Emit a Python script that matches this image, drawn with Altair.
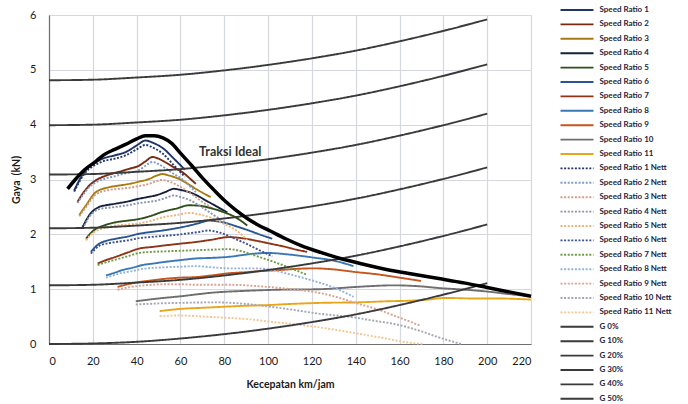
import altair as alt
import pandas as pd

FONT = "Lato"

# ---------------- data ----------------
sr_x = [
    [11.5, 14, 16, 20, 24.5, 30, 35, 40, 44, 48, 52, 57, 62],
    [13, 15, 18.4, 22, 26, 30, 33.6, 37, 41, 44, 47.2, 50, 53.3, 57, 61, 64, 67],
    [13.8, 16.9, 21.4, 27.5, 32, 36.6, 41, 45.7, 49, 51.8, 55, 59.4, 63, 67, 70, 73.8],
    [15.3, 18.4, 22.9, 26, 30.5, 36, 41.1, 45, 48.7, 53, 57, 60, 64, 68, 71.5, 76, 81.4],
    [16.9, 19, 21.4, 25, 30.5, 36, 41.1, 46, 51.8, 58, 64, 69, 74.6, 80, 85.2, 90.5],
    [19.1, 22.9, 26, 30.5, 36, 41.1, 46, 51.8, 58, 64, 68, 73, 78, 82.1, 86, 90.5, 96, 101.9],
    [22.2, 26, 30.5, 36, 41.1, 47, 53.3, 60, 67, 74, 82.1, 88, 95, 101, 108, 113, 117.8],
    [26, 30, 33.6, 38, 42.7, 48, 53.3, 60, 67, 74, 82.1, 88, 94.3, 100, 110, 120, 130, 139],
    [31.3, 36, 41.1, 47, 53.3, 60, 67, 74, 82.1, 90, 97, 105.7, 113, 120.9, 130, 140.6, 150, 160, 169.8],
    [39.6, 50, 60, 75.7, 90, 105, 124, 140, 149, 157, 170, 178, 190, 201.6, 210, 220],
    [50.5, 60, 70, 80, 92, 100, 110, 124, 141, 155, 165, 173, 181, 194, 205, 220],
]
sr_y = [
    [2.80, 3.00, 3.13, 3.28, 3.38, 3.44, 3.50, 3.62, 3.71, 3.66, 3.57, 3.38, 3.18],
    [2.59, 2.72, 2.89, 3.00, 3.07, 3.12, 3.16, 3.20, 3.25, 3.33, 3.41, 3.38, 3.31, 3.22, 3.13, 3.03, 2.92],
    [2.35, 2.53, 2.77, 2.86, 2.89, 2.92, 2.96, 3.01, 3.07, 3.10, 3.07, 3.01, 2.93, 2.83, 2.76, 2.68],
    [2.13, 2.35, 2.50, 2.53, 2.56, 2.60, 2.65, 2.68, 2.71, 2.77, 2.83, 2.81, 2.77, 2.70, 2.62, 2.52, 2.40],
    [1.92, 2.02, 2.10, 2.16, 2.22, 2.25, 2.28, 2.33, 2.41, 2.47, 2.53, 2.52, 2.47, 2.40, 2.31, 2.16],
    [1.68, 1.83, 1.88, 1.92, 1.96, 2.01, 2.04, 2.07, 2.11, 2.16, 2.20, 2.25, 2.23, 2.19, 2.14, 2.08, 2.00, 1.92],
    [1.47, 1.53, 1.59, 1.67, 1.74, 1.77, 1.80, 1.83, 1.86, 1.90, 1.95, 1.93, 1.88, 1.83, 1.77, 1.72, 1.68],
    [1.25, 1.30, 1.35, 1.39, 1.44, 1.47, 1.50, 1.53, 1.56, 1.57, 1.59, 1.62, 1.65, 1.66, 1.63, 1.58, 1.52, 1.42],
    [1.04, 1.09, 1.13, 1.16, 1.19, 1.21, 1.22, 1.25, 1.29, 1.31, 1.33, 1.35, 1.37, 1.38, 1.36, 1.31, 1.27, 1.21, 1.15],
    [0.78, 0.83, 0.87, 0.94, 0.97, 0.99, 1.00, 1.04, 1.06, 1.07, 1.05, 1.02, 0.99, 0.95, 0.91, 0.87],
    [0.60, 0.64, 0.66, 0.68, 0.70, 0.71, 0.73, 0.75, 0.76, 0.78, 0.79, 0.81, 0.84, 0.83, 0.83, 0.81],
]

nett_x = [
    [11.5, 14, 16, 20, 24.5, 30, 35, 40, 44, 48, 52, 57, 62],
    [13, 15, 18.4, 22, 26, 30, 33.6, 37, 41, 44, 47.2, 50, 53.3, 57, 61, 64, 67],
    [13.8, 16.9, 21.4, 27.5, 32, 36.6, 41, 45.7, 49, 51.8, 55, 59.4, 63, 67, 70, 73.8],
    [15.3, 18.4, 22.9, 26, 30.5, 36, 41.1, 45, 48.7, 53, 57, 60, 64, 68, 71.5, 76, 81.4],
    [16.9, 19, 21.4, 25, 30.5, 36, 41.1, 46, 51.8, 58, 64, 69, 74.6, 80, 85.2, 90.5],
    [19.1, 22.9, 26, 30.5, 36, 41.1, 46, 51.8, 58, 64, 68, 73, 78, 82.1, 86, 90.5, 96, 101.9],
    [22.2, 26, 30.5, 36, 41.1, 47, 53.3, 60, 67, 74, 82.1, 88, 95, 101, 108, 113, 117.8],
    [26, 30, 33.6, 38, 42.7, 48, 53.3, 60, 67, 74, 82.1, 88, 94.3, 100, 110, 120, 130, 139],
    [31.3, 36, 41.1, 47, 53.3, 60, 67, 74, 82.1, 90, 97, 105.7, 113, 120.9, 130, 140.6, 150, 160, 169.8],
    [39.6, 50, 60, 75.7, 90, 105, 124, 140, 149, 157, 170, 178, 188],
    [50.5, 60, 70, 80, 92, 100, 110, 124, 141, 155, 165, 171],
]
nett_y = [
    [2.78, 2.97, 3.10, 3.24, 3.33, 3.38, 3.44, 3.55, 3.63, 3.57, 3.47, 3.26, 3.05],
    [2.57, 2.69, 2.86, 2.96, 3.02, 3.06, 3.10, 3.13, 3.17, 3.25, 3.32, 3.28, 3.20, 3.10, 3.00, 2.89, 2.77],
    [2.33, 2.50, 2.73, 2.81, 2.83, 2.85, 2.88, 2.92, 2.97, 2.99, 2.96, 2.88, 2.79, 2.68, 2.59, 2.50],
    [2.10, 2.32, 2.46, 2.48, 2.50, 2.53, 2.57, 2.59, 2.61, 2.66, 2.71, 2.68, 2.63, 2.54, 2.45, 2.33, 2.19],
    [1.89, 1.99, 2.06, 2.11, 2.16, 2.18, 2.20, 2.24, 2.31, 2.35, 2.39, 2.36, 2.29, 2.19, 2.08, 1.90],
    [1.65, 1.79, 1.83, 1.86, 1.89, 1.93, 1.95, 1.97, 1.99, 2.02, 2.04, 2.07, 2.03, 1.97, 1.90, 1.82, 1.71, 1.60],
    [1.44, 1.49, 1.54, 1.60, 1.66, 1.68, 1.69, 1.70, 1.71, 1.72, 1.73, 1.69, 1.60, 1.52, 1.42, 1.34, 1.26],
    [1.21, 1.26, 1.30, 1.33, 1.37, 1.39, 1.40, 1.41, 1.42, 1.40, 1.38, 1.38, 1.38, 1.36, 1.27, 1.16, 1.03, 0.86],
    [0.99, 1.03, 1.06, 1.08, 1.09, 1.09, 1.08, 1.08, 1.08, 1.07, 1.05, 1.02, 0.99, 0.95, 0.87, 0.74, 0.63, 0.48, 0.33],
    [0.72, 0.74, 0.75, 0.76, 0.73, 0.66, 0.55, 0.48, 0.42, 0.37, 0.23, 0.12, 0.0],
    [0.51, 0.52, 0.50, 0.48, 0.45, 0.41, 0.37, 0.30, 0.19, 0.09, 0.02, 0.0],
]

g_labels = ["G 0%", "G 10%", "G 20%", "G 30%", "G 40%", "G 50%"]
g_x = [0, 20, 40, 60, 80, 100, 120, 140, 160, 180, 200]
g_y = [
    [0.00, 0.01, 0.04, 0.10, 0.18, 0.28, 0.40, 0.54, 0.71, 0.90, 1.11],
    [1.07, 1.08, 1.12, 1.17, 1.25, 1.35, 1.47, 1.61, 1.78, 1.97, 2.18],
    [2.11, 2.12, 2.16, 2.21, 2.29, 2.39, 2.51, 2.65, 2.82, 3.01, 3.22],
    [3.09, 3.10, 3.14, 3.19, 3.27, 3.37, 3.49, 3.63, 3.80, 3.99, 4.20],
    [3.99, 4.00, 4.04, 4.09, 4.17, 4.27, 4.39, 4.53, 4.70, 4.89, 5.10],
    [4.81, 4.82, 4.86, 4.91, 4.99, 5.09, 5.21, 5.35, 5.52, 5.71, 5.92],
]

ideal_x = [8.5, 12, 16, 21.4, 25, 30, 35, 40, 44, 48, 52, 56, 60, 65, 70, 75, 80, 85,
           90.5, 95, 101, 108, 114.8, 124, 133, 143, 154, 165, 178.6, 190, 200, 210, 220]
ideal_y = [2.83, 3.00, 3.17, 3.33, 3.45, 3.55, 3.64, 3.74, 3.80, 3.80, 3.76, 3.66, 3.48,
           3.26, 3.03, 2.82, 2.62, 2.45, 2.29, 2.18, 2.06, 1.92, 1.80, 1.67, 1.56, 1.46,
           1.36, 1.28, 1.19, 1.11, 1.03, 0.95, 0.87]

x_ticks = list(range(0, 221, 20))
y_ticks = [0, 1, 2, 3, 4, 5, 6]

sr_names = [f"Speed Ratio {i}" for i in range(1, 12)]
nett_names = [f"Speed Ratio {i} Nett" for i in range(1, 12)]
all_names = sr_names + nett_names + g_labels

sr_colors = ["#1f3468", "#7b2a12", "#a97a12", "#15213c", "#2f4f1a", "#2a5590",
             "#8f3415", "#3a78b4", "#c4561e", "#6e6e6e", "#e8a61c"]
nett_colors = ["#23366b", "#7f9cc4", "#d49a86", "#8c93ab", "#f2b27a", "#3f4f94",
               "#6f9a48", "#92b4dc", "#d9a292", "#a4a7b4", "#f5c690"]
g_colors = ["#3a3a3a"] * 6

# ---------------- build table ----------------
rows = []
for name, xs, ys in zip(sr_names, sr_x, sr_y):
    rows += [{"series": name, "x": a, "y": b} for a, b in zip(xs, ys)]
for name, xs, ys in zip(nett_names, nett_x, nett_y):
    rows += [{"series": name, "x": a, "y": b} for a, b in zip(xs, ys)]
for name, ys in zip(g_labels, g_y):
    rows += [{"series": name, "x": a, "y": b} for a, b in zip(g_x, ys)]
df = pd.DataFrame(rows)
ideal_df = pd.DataFrame({"x": ideal_x, "y": ideal_y})
label_df = pd.DataFrame({"x": [68.5], "y": [3.51], "t": ["Traksi Ideal"]})

dashes = [[1, 0]] * 11 + [[2, 1.6]] * 11 + [[1, 0]] * 6
widths = [1.9] * 11 + [1.9] * 11 + [1.1] * 6

legend = alt.Legend(
    title=None, orient="none", legendX=522, legendY=-11, padding=0,
    symbolType="M-3.3,0H3.3", symbolSize=100, labelOffset=16.5, rowPadding=4.4,
    labelFont=FONT, labelFontSize=8, labelFontWeight="bold", labelColor="#1b2441",
)

xscale = alt.Scale(domain=[0, 220], nice=False)
yscale = alt.Scale(domain=[0, 6], nice=False)
xaxis = alt.Axis(values=x_ticks, title="Kecepatan km/jam", grid=True, ticks=False,
                 tickSize=0, labelPadding=11, titlePadding=13, format="d")
yaxis = alt.Axis(values=y_ticks, title="Gaya\u00a0 (kN)", grid=True, ticks=False,
                 tickSize=0, labelPadding=13, titlePadding=8, format="d")

lines = alt.Chart(df).mark_line(interpolate="monotone").encode(
    x=alt.X("x:Q", scale=xscale, axis=xaxis),
    y=alt.Y("y:Q", scale=yscale, axis=yaxis),
    color=alt.Color("series:N", scale=alt.Scale(domain=all_names, range=sr_colors + nett_colors + g_colors), legend=legend),
    strokeDash=alt.StrokeDash("series:N", scale=alt.Scale(domain=all_names, range=dashes), legend=legend),
    strokeWidth=alt.StrokeWidth("series:N", scale=alt.Scale(domain=all_names, range=widths), legend=legend),
    detail="series:N",
)

ideal = alt.Chart(ideal_df).mark_line(interpolate="monotone", color="#000000", strokeWidth=3.5).encode(
    x="x:Q", y="y:Q"
)

label = alt.Chart(label_df).mark_text(
    align="left", baseline="middle", font=FONT, fontSize=12.5, fontWeight="bold", color="#333333"
).encode(x="x:Q", y="y:Q", text="t:N")

chart = alt.layer(lines, ideal, label).properties(
    width=482, height=329,
    autosize=alt.AutoSizeParams(type="none"),
    padding={"left": 49, "top": 15, "right": 157, "bottom": 60},
).configure_view(stroke=None).configure_axis(
    labelFont=FONT, titleFont=FONT, labelFontSize=11, titleFontSize=10.5,
    labelColor="#1a1a1a", titleColor="#1a1a1a", titleFontWeight="bold",
    gridColor="#d5d8de", gridWidth=1.2, domainColor="#6f6f6f", domainWidth=1.2,
)

chart.save("out.html", embed_options={"renderer": "svg", "actions": False})
